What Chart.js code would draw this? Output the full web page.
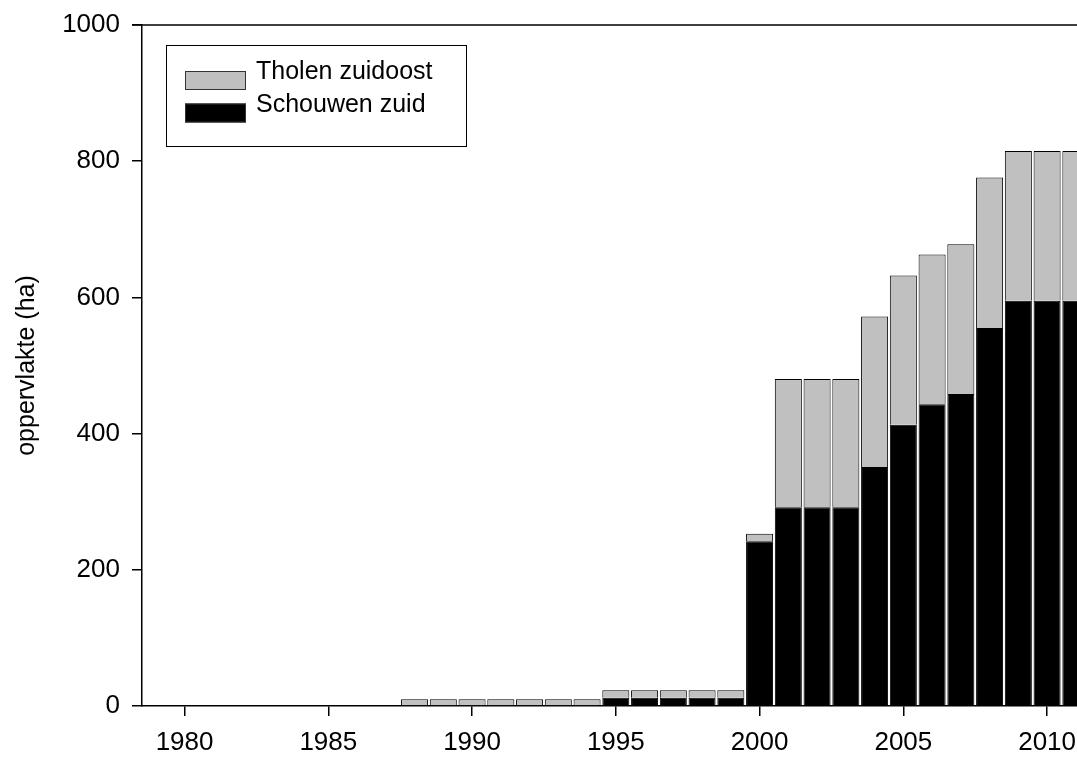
<!DOCTYPE html>
<html>
<head>
<meta charset="utf-8">
<script src="https://cdn.jsdelivr.net/npm/chart.js@4"></script>
<style>
  html, body { margin: 0; padding: 0; background: #fff; }
  #wrap { width: 1077px; height: 758px; position: relative; }
</style>
</head>
<body>
<div id="wrap"><canvas id="chart"></canvas></div>
<script>
// jaren met areaal (ha)
const years = [1988, 1989, 1990, 1991, 1992, 1993, 1994, 1995, 1996, 1997, 1998, 1999,
               2000, 2001, 2002, 2003, 2004, 2005, 2006, 2007, 2008, 2009, 2010, 2011];
const schouwenZuid = [null, null, null, null, null, null, null, 12, 12, 12, 12, 12,
                      242, 292, 292, 292, 351, 413, 443, 458, 555, 595, 595, 595];
const tholenZuidoost = [10, 10, 10, 10, 10, 10, 10, 11, 11, 11, 11, 11,
                        11, 188, 188, 188, 221, 219, 220, 220, 221, 220, 220, 220];
const xTicks = [1980, 1985, 1990, 1995, 2000, 2005, 2010];
const yTicks = [0, 200, 400, 600, 800, 1000];

Chart.defaults.font.family = 'Arial, "Liberation Sans", sans-serif';
Chart.defaults.color = '#000';

// kader bovenaan + legenda in een kader
const boxLegend = {
  id: 'boxLegend',
  afterDraw(chart) {
    const ctx = chart.ctx;
    const a = chart.chartArea;
    ctx.save();
    ctx.strokeStyle = '#000';
    ctx.lineWidth = 1.5;
    ctx.beginPath();
    ctx.moveTo(a.left - 10, a.top);
    ctx.lineTo(a.right, a.top);
    ctx.stroke();

    ctx.lineWidth = 1;
    ctx.strokeRect(166.5, 45.5, 300, 101);
    const items = [chart.data.datasets[1], chart.data.datasets[0]];
    ctx.font = '25px Arial, "Liberation Sans", sans-serif';
    ctx.textBaseline = 'alphabetic';
    items.forEach((ds, i) => {
      const y = 71 + i * 32.5;
      ctx.fillStyle = ds.backgroundColor;
      ctx.fillRect(185, y, 61, 19);
      ctx.strokeStyle = '#333';
      ctx.strokeRect(185.5, y + 0.5, 60, 18);
      ctx.fillStyle = '#000';
      ctx.fillText(ds.label, 256, y + 8);
    });
    ctx.restore();
  }
};

new Chart(document.getElementById('chart'), {
  type: 'bar',
  data: {
    datasets: [
      {
        label: 'Schouwen zuid',
        data: years.map((y, i) => ({ x: y, y: schouwenZuid[i] })),
        backgroundColor: '#000000',
        borderColor: '#000000',
        borderWidth: 1
      },
      {
        label: 'Tholen zuidoost',
        data: years.map((y, i) => ({ x: y, y: tholenZuidoost[i] })),
        backgroundColor: '#c0c0c0',
        borderColor: '#000000',
        borderWidth: 1
      }
    ]
  },
  options: {
    responsive: true,
    maintainAspectRatio: false,
    animation: false,
    layout: { padding: { top: 25, right: 0, left: 0, bottom: 0 } },
    datasets: { bar: { barPercentage: 0.94, categoryPercentage: 1 } },
    plugins: { legend: { display: false }, tooltip: { enabled: false } },
    scales: {
      x: {
        type: 'linear',
        stacked: true,
        offset: false,
        min: 1978.52,
        max: 2011.04,
        afterBuildTicks: s => { s.ticks = xTicks.map(v => ({ value: v })); },
        afterFit: s => { s.height = 52; s.paddingRight = 0; s.paddingLeft = 0; },
        ticks: {
          font: { size: 26 },
          padding: 11,
          maxRotation: 0,
          autoSkip: false,
          callback: v => String(v)
        },
        grid: { offset: false, drawOnChartArea: false, tickLength: 10, color: '#000', lineWidth: 1.5 },
        border: { display: true, color: '#000', width: 1.5 }
      },
      y: {
        stacked: true,
        min: 0,
        max: 1000,
        afterBuildTicks: s => { s.ticks = yTicks.map(v => ({ value: v })); },
        afterFit: s => { s.width = 142; s.paddingTop = 0; s.paddingBottom = 0; },
        ticks: { font: { size: 26 }, padding: 12, callback: v => String(v) },
        grid: { drawOnChartArea: false, tickLength: 10, color: '#000', lineWidth: 1.5 },
        border: { display: true, color: '#000', width: 1.5 },
        title: {
          display: true,
          text: 'oppervlakte (ha)',
          font: { size: 25 },
          color: '#000',
          padding: { top: 12, bottom: 0 }
        }
      }
    }
  },
  plugins: [boxLegend]
});
</script>
</body>
</html>
